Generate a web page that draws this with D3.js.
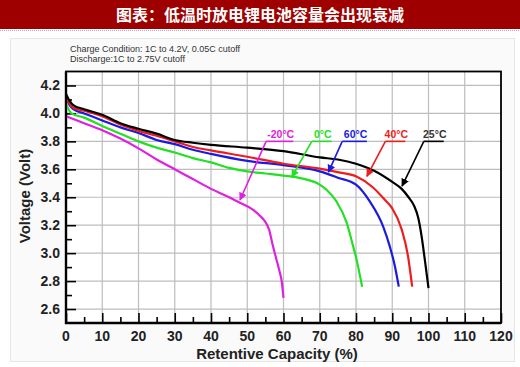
<!DOCTYPE html>
<html><head><meta charset="utf-8">
<script src="https://cdn.jsdelivr.net/npm/d3@7/dist/d3.min.js"></script>
<style>body{margin:0;background:#fff}svg{display:block}</style>
</head><body>
<svg id="c" width="520" height="367"></svg>
<script>
const title = "图表：低温时放电锂电池容量会出现衰减";
const note1 = "Charge Condition: 1C to 4.2V, 0.05C cutoff";
const note2 = "Discharge:1C to 2.75V cutoff";
const xTicks = [0,10,20,30,40,50,60,70,80,90,100,110,120];
const yTicks = [2.6,2.8,3.0,3.2,3.4,3.6,3.8,4.0,4.2];
const seriesNames = ["-20°C","0°C","60°C","40°C","25°C"];
const seriesColors = ["#e020e0","#22e022","#1a1ae0","#ee1c1c","#000000"];
// [capacity %, voltage V]
const curveM20 = [[0,3.98],[5,3.93],[10,3.88],[15,3.82],[20,3.75],[25,3.67],[30,3.60],[35,3.53],[40,3.46],[45,3.40],[48,3.36],[51,3.32],[53,3.28],[56,3.17],[57,3.06],[58,2.96],[59,2.86],[59.5,2.80],[60,2.68]];
const curve0 = [[0,4.07],[1.5,4.00],[5,3.97],[10,3.91],[15,3.855],[20,3.80],[25,3.755],[30,3.72],[35,3.68],[40,3.65],[45,3.61],[50,3.585],[55,3.57],[60,3.555],[65,3.535],[70,3.49],[72,3.45],[74.6,3.37],[77.4,3.22],[79.2,3.05],[80.2,2.95],[81,2.85],[81.7,2.76]];
const curve60 = [[0,4.11],[1,4.06],[2,4.03],[5,4.00],[10,3.95],[15,3.90],[20,3.86],[25,3.81],[30,3.78],[35,3.74],[40,3.71],[50,3.66],[60,3.63],[70,3.585],[75,3.54],[80,3.49],[83.8,3.37],[87.5,3.19],[89.3,3.05],[90.7,2.91],[91.8,2.76]];
const curve40 = [[0,4.12],[1,4.07],[2,4.04],[5,4.02],[10,3.98],[15,3.92],[20,3.875],[25,3.84],[30,3.80],[35,3.76],[40,3.735],[50,3.69],[60,3.64],[70,3.605],[75,3.58],[80,3.55],[84.7,3.47],[88,3.38],[90,3.32],[92.6,3.17],[94.4,2.97],[95,2.86],[95.5,2.76]];
const curve25 = [[0,4.14],[1,4.09],[2,4.06],[5,4.03],[10,3.99],[15,3.93],[20,3.89],[25,3.855],[30,3.81],[35,3.79],[40,3.775],[50,3.755],[60,3.73],[70,3.685],[75,3.67],[80,3.64],[85,3.59],[90,3.51],[92.6,3.46],[94.5,3.40],[96,3.34],[97.2,3.25],[98.1,3.12],[99,2.95],[99.5,2.85],[100,2.75]];
// label annotations: [underline x start, underline x end, leader target x, leader target y]
const labelLine = [[55.2,62.7,48,3.38],[67.8,73.3,62.3,3.545],[76.2,83.0,72.4,3.58],[88.1,93.6,83,3.55],[98.7,104.2,92.7,3.48]];
const labelY = 3.80;

const curves = [curveM20, curve0, curve60, curve40, curve25];
const svg = d3.select("#c");
const FONT = "'Liberation Sans', Arial, sans-serif";

// title bar
svg.append("rect").attr("x",0).attr("y",0).attr("width",520).attr("height",29).attr("fill","#9e0000");
svg.append("text").attr("x",260).attr("y",21).attr("text-anchor","middle")
  .attr("fill","#fff").attr("font-family","'Noto Sans CJK SC', sans-serif").attr("font-weight","bold")
  .attr("font-size",16).text(title);
svg.append("line").attr("x1",0).attr("x2",520).attr("y1",30.5).attr("y2",30.5)
  .attr("stroke","#9db4d8").attr("stroke-dasharray","1,1");

// panel
svg.append("rect").attr("x",10.5).attr("y",38.5).attr("width",504).attr("height",323)
  .attr("fill","#fafafa").attr("stroke","#e6e6e6");

const x = d3.scaleLinear().domain([0,120]).range([66,501]);
const y = d3.scaleLinear().domain([2.5,4.3]).range([323,71.5]);

// plot bg
svg.append("rect").attr("x",x(0)).attr("y",y(4.3)).attr("width",x(120)-x(0)).attr("height",y(2.5)-y(4.3)).attr("fill","#fff");

// grid
svg.append("g").selectAll("line").data(xTicks.filter(d=>d>0&&d<120)).join("line")
  .attr("x1",d=>x(d)).attr("x2",d=>x(d)).attr("y1",y(2.5)).attr("y2",y(4.3))
  .attr("stroke","#bdbdbd").attr("stroke-width",1.2);
svg.append("g").selectAll("line").data(yTicks).join("line")
  .attr("x1",x(0)).attr("x2",x(120)).attr("y1",d=>y(d)).attr("y2",d=>y(d))
  .attr("stroke","#bdbdbd").attr("stroke-width",1.2);

// axes with inner ticks
const xAxis = d3.axisTop(x).tickValues(xTicks).tickSize(10).tickFormat("");
const xMinor = d3.axisTop(x).tickValues(d3.range(5,120,10)).tickSize(6).tickFormat("");
const yAxis = d3.axisRight(y).tickValues(yTicks).tickSize(10).tickFormat("");
const yMinor = d3.axisRight(y).tickValues([2.7,2.9,3.1,3.3,3.5,3.7,3.9,4.1]).tickSize(6).tickFormat("");
[xAxis,xMinor].forEach(a=>{
  const g = svg.append("g").attr("transform",`translate(0,${y(2.5)})`).call(a);
  g.select(".domain").remove();
  g.selectAll("line").attr("stroke","#000").attr("stroke-width",1.6);
});
[yAxis,yMinor].forEach(a=>{
  const g = svg.append("g").attr("transform",`translate(${x(0)},0)`).call(a);
  g.select(".domain").remove();
  g.selectAll("line").attr("stroke","#000").attr("stroke-width",1.6);
});

// frame
svg.append("rect").attr("x",x(0)).attr("y",y(4.3)).attr("width",x(120)-x(0)).attr("height",y(2.5)-y(4.3))
  .attr("fill","none").attr("stroke","#000").attr("stroke-width",1.8);
svg.append("line").attr("x1",x(0)).attr("x2",x(0)).attr("y1",y(4.3)).attr("y2",y(2.5)+1).attr("stroke","#000").attr("stroke-width",2.4);
svg.append("line").attr("x1",x(0)-1).attr("x2",x(120)).attr("y1",y(2.5)).attr("y2",y(2.5)).attr("stroke","#000").attr("stroke-width",2.4);

// tick labels
svg.append("g").selectAll("text").data(xTicks).join("text")
  .attr("x",d=>x(d)).attr("y",341).attr("text-anchor","middle")
  .attr("font-family",FONT).attr("font-weight","bold").attr("font-size",14).attr("fill","#222")
  .text(d=>d);
svg.append("g").selectAll("text").data(yTicks).join("text")
  .attr("x",60).attr("y",d=>y(d)+5).attr("text-anchor","end")
  .attr("font-family",FONT).attr("font-weight","bold").attr("font-size",14).attr("fill","#222")
  .text(d=>d.toFixed(1));

// axis titles
svg.append("text").attr("x",277).attr("y",358.5).attr("text-anchor","middle")
  .attr("font-family",FONT).attr("font-weight","bold").attr("font-size",15).attr("fill","#222")
  .text("Retentive Capacity (%)");
svg.append("text").attr("transform","translate(30,196) rotate(-90)").attr("text-anchor","middle")
  .attr("font-family",FONT).attr("font-weight","bold").attr("font-size",15).attr("fill","#222")
  .text("Voltage (Volt)");

// notes
svg.append("text").attr("x",70).attr("y",52).attr("font-family",FONT).attr("font-size",9).attr("fill","#333").text(note1);
svg.append("text").attr("x",70).attr("y",61.5).attr("font-family",FONT).attr("font-size",9).attr("fill","#333").text(note2);

// curves
const line = d3.line().x(d=>x(d[0])).y(d=>y(d[1])).curve(d3.curveMonotoneX);
svg.append("clipPath").attr("id","pc").append("rect")
  .attr("x",x(0)+1).attr("y",y(4.3)).attr("width",x(120)-x(0)).attr("height",y(2.5)-y(4.3));
const cg = svg.append("g").attr("clip-path","url(#pc)");
curves.forEach((c,i)=>{
  cg.append("path").attr("d",line(c)).attr("fill","none").attr("stroke",seriesColors[i])
    .attr("stroke-width",2.2).attr("stroke-linejoin","round");
});

// markers
const defs = svg.append("defs");
seriesColors.forEach((col,i)=>{
  defs.append("marker").attr("id","ar"+i).attr("viewBox","0 0 10 10").attr("refX",9).attr("refY",5)
    .attr("markerWidth",5).attr("markerHeight",5).attr("orient","auto")
    .append("path").attr("d","M0,0L10,5L0,10z").attr("fill",col);
});

// labels with leader lines
labelLine.forEach((l,i)=>{
  const col = seriesColors[i];
  svg.append("line").attr("x1",x(l[0])).attr("x2",x(l[1])).attr("y1",y(labelY)).attr("y2",y(labelY))
    .attr("stroke",col).attr("stroke-width",1.6);
  svg.append("line").attr("x1",x(l[0])).attr("y1",y(labelY)).attr("x2",x(l[2])).attr("y2",y(l[3]))
    .attr("stroke",col).attr("stroke-width",1.6).attr("marker-end",`url(#ar${i})`);
  svg.append("text").attr("x",(x(l[0])+x(l[1]))/2+1).attr("y",y(labelY)-3).attr("text-anchor","middle")
    .attr("font-family",FONT).attr("font-weight","bold").attr("font-size",10.5)
    .attr("fill", i===4 ? "#333" : col).text(seriesNames[i]);
});
</script>
</body></html>
